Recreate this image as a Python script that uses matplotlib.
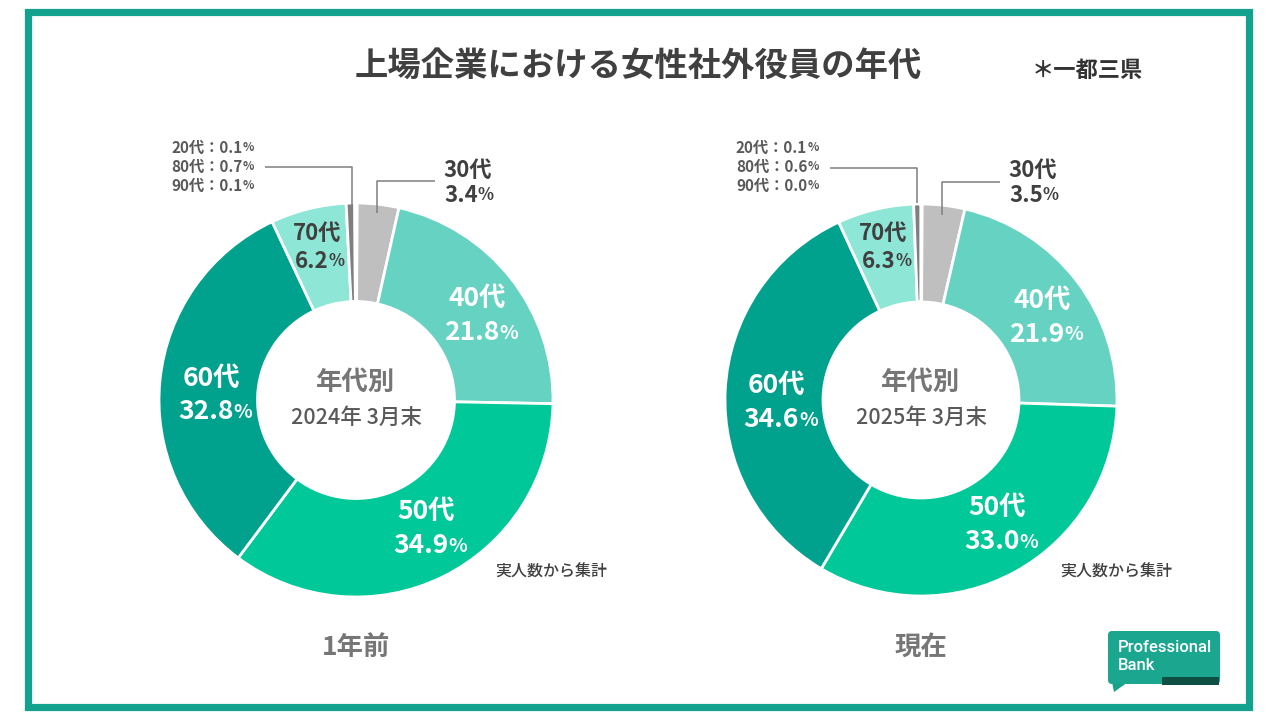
import matplotlib
matplotlib.use("Agg")
import numpy as np
import matplotlib.pyplot as plt
from matplotlib.patches import Rectangle, FancyBboxPatch, Polygon

plt.rcParams['font.family'] = ['Noto Sans CJK JP', 'DejaVu Sans']

W, H = 1280, 720

# data
ages = ['20代', '30代', '40代', '50代', '60代', '70代', '80代', '90代']
share_2024 = [0.1, 3.4, 21.8, 34.9, 32.8, 6.2, 0.7, 0.1]
share_2025 = [0.1, 3.5, 21.9, 33.0, 34.6, 6.3, 0.6, 0.0]
dates = ['2024年 3月末', '2025年 3月末']
captions = ['1年前', '現在']

colors = ['#7F7F7F', '#BFBFBF', '#66D2C2', '#00C898', '#00A18D', '#8EE6D6', '#7F7F7F', '#7F7F7F']
inside_white = {'40代', '50代', '60代'}
inside_dark = {'70代'}
# small nudges (pixels, y down) for the in-ring labels
nudge = {'40代': (3, 8), '50代': (4, -6), '60代': (4, 10), '70代': (0, 4)}

DARK = '#404040'
MID = '#595959'
LIGHT = '#767676'


def Y(y):
    # pixel row (from top) -> axes coordinate (y up)
    return H - y


def two_line_label(ax, x, y, top, value, color, size, psize, weight='bold', gap=17):
    ax.text(x, y + gap, top, ha='center', va='center', fontsize=size,
            color=color, fontweight=weight)
    t = ax.text(x - 5, y - gap, '{:.1f}'.format(value), ha='center', va='center',
                fontsize=size, color=color, fontweight=weight)
    ax.annotate('%', xy=(1, 0.12), xycoords=t, ha='left', va='bottom',
                fontsize=psize, color=color, fontweight=weight)


def draw_donut(ax, cx, cy, radius, values, date_text, caption, small_pos, line_pts, p30_line, p30_text):
    wedges, _ = ax.pie(values, colors=colors, startangle=90, counterclock=False,
                       radius=radius, center=(cx, Y(cy)),
                       wedgeprops=dict(width=radius * 0.5, edgecolor='white', linewidth=2))
    for w, name, v in zip(wedges, ages, values):
        if name in inside_white or name in inside_dark:
            mid = np.deg2rad((w.theta1 + w.theta2) / 2)
            r = radius * (0.76 if name in inside_white else 0.82)
            dx, dy = nudge[name]
            lx = cx + r * np.cos(mid) + dx
            ly = cy - r * np.sin(mid) + dy
            if name in inside_white:
                two_line_label(ax, lx, Y(ly), name, v, 'white', 19, 14)
            else:
                two_line_label(ax, lx, Y(ly), name, v, DARK, 16, 12, gap=14)

    # centre text
    ax.text(cx, Y(cy - 18), '年代別', ha='center', va='center', fontsize=19,
            color=LIGHT, fontweight='bold')
    ax.text(cx, Y(cy + 18), date_text, ha='center', va='center', fontsize=15.5,
            color=MID, fontweight='medium')

    # small slices
    sx, sy = small_pos
    for i, idx in enumerate([0, 6, 7]):
        t = ax.text(sx, Y(sy + i * 19), '{}：{:.1f}'.format(ages[idx], values[idx]),
                    ha='left', va='center', fontsize=11, color=MID, fontweight='bold')
        ax.annotate('%', xy=(1, 0.12), xycoords=t, ha='left', va='bottom',
                    fontsize=8.5, color=MID, fontweight='bold')
    xs, ys = zip(*line_pts)
    ax.plot(xs, [Y(v) for v in ys], color='#7F7F7F', lw=1.1, solid_capstyle='butt')

    # 30代 outside label
    xs, ys = zip(*p30_line)
    ax.plot(xs, [Y(v) for v in ys], color='#7F7F7F', lw=1.1, solid_capstyle='butt')
    tx, ty = p30_text
    ax.text(tx, Y(ty), ages[1], ha='left', va='center', fontsize=16,
            color=DARK, fontweight='bold')
    t2 = ax.text(tx + 1, Y(ty + 25), '{:.1f}'.format(values[1]), ha='left', va='center',
                 fontsize=16, color=DARK, fontweight='bold')
    ax.annotate('%', xy=(1, 0.12), xycoords=t2, ha='left', va='bottom',
                fontsize=12, color=DARK, fontweight='bold')

    ax.text(cx, Y(647), caption, ha='center', va='center', fontsize=19,
            color=LIGHT, fontweight='bold')
    ax.text(cx + 195, Y(572), '実人数から集計', ha='center', va='center',
            fontsize=11.5, color=DARK, fontweight='medium')


fig = plt.figure(figsize=(W / 100, H / 100), dpi=100)
ax = fig.add_axes([0, 0, 1, 1])

# frame
ax.add_patch(Rectangle((27.5, Y(706.5)), 1221, 695, fill=False, edgecolor='#12A28D', linewidth=5.2))

ax.text(638, Y(66), '上場企業における女性社外役員の年代', ha='center', va='center',
        fontsize=24, color=DARK, fontweight='bold')
ax.text(1087, Y(70), '＊一都三県', ha='center', va='center', fontsize=16,
        color='#333333', fontweight='bold')

draw_donut(ax, 356, 400, 197, share_2024, dates[0], captions[0],
           (171, 148), [(265, 167), (352, 167), (352, 205)],
           [(377, 213), (377, 181), (435, 181)], (443, 170))
draw_donut(ax, 921, 400, 196, share_2025, dates[1], captions[1],
           (736, 148), [(830, 168), (917, 168), (917, 203)],
           [(942, 215), (942, 182), (1000, 182)], (1008, 170))

# logo
ax.add_patch(Polygon([(1112, Y(682)), (1128, Y(682)), (1114, Y(692))], closed=True,
                     facecolor='#17A08A', edgecolor='none'))
ax.add_patch(FancyBboxPatch((1108, Y(684)), 112, 53,
                            boxstyle='round,pad=0,rounding_size=4',
                            facecolor='#1AA68F', edgecolor='none'))
ax.add_patch(Rectangle((1162, Y(685)), 57, 8, facecolor='#0E4F43', edgecolor='none'))
ax.text(1118, Y(647), 'Professional', ha='left', va='center', fontsize=12,
        color='white', family='Roboto', fontweight='medium')
ax.text(1118, Y(666), 'Bank', ha='left', va='center', fontsize=12,
        color='white', family='Roboto', fontweight='medium')

# pie() resets the limits, so fix the pixel frame afterwards
ax.set_xlim(0, W)
ax.set_ylim(0, H)
ax.set_aspect('equal')
ax.axis('off')

fig.savefig('out.png', dpi=100, facecolor='white')
